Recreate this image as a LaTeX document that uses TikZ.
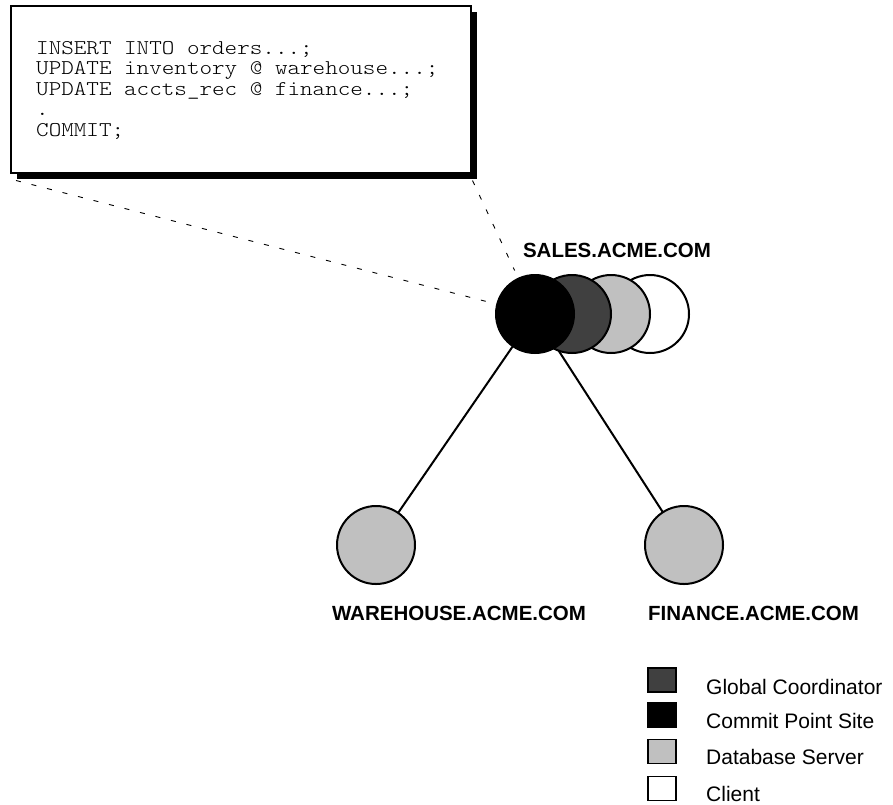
\documentclass[tikz,border=0pt]{standalone}
\usepackage{fontspec}
\setmainfont{Liberation Sans}
\newfontfamily\codefont[FakeStretch=1.14]{Latin Modern Mono Light}
\usetikzlibrary{shadows}
\definecolor{darkgrey}{HTML}{404040}
\definecolor{lightgrey}{HTML}{C0C0C0}
\begin{document}
\begin{tikzpicture}[x=1pt,y=-1pt,
  site/.style={circle, draw=black, line width=2pt, minimum size=78pt, inner sep=0pt},
  link/.style={line width=2pt},
  callout/.style={line width=0.9pt, dash pattern=on 5pt off 11pt},
  sitelabel/.style={font=\bfseries\fontsize{20.5}{23}\selectfont, inner sep=0pt},
  legbox/.style={draw=black, line width=1.8pt, minimum width=28pt, minimum height=24pt, inner sep=0pt},
  legtext/.style={font=\fontsize{21}{24}\selectfont, inner sep=0pt, anchor=base west},
  codeline/.style={font=\codefont\fontsize{21}{23}\selectfont, inner sep=0pt, anchor=base west},
  codebox/.style={draw=black, line width=1.5pt, fill=white, inner sep=0pt,
     drop shadow={shadow xshift=6pt, shadow yshift=-6pt, fill=black, opacity=1}}
]
\useasboundingbox (0,0) rectangle (893,804);

% code box
\node[codebox, minimum width=460pt, minimum height=167pt, anchor=north west] (box) at (10,5) {};
\node[codeline] (c1) at (36,54) {INSERT INTO orders...;};
\node[codeline] (c2) at (36,74.5) {UPDATE inventory @ warehouse...;};
\node[codeline] (c3) at (36,95) {UPDATE accts\_rec @ finance...;};
\node[codeline] (c4) at (36,115.5) {.};
\node[codeline] (c5) at (36,136) {COMMIT;};

% sites
\coordinate (cps) at (535,314);
\coordinate (wh) at (376,545);
\coordinate (fin) at (684,545);

\draw[callout] ([xshift=6pt,yshift=-7pt]box.south west) -- (cps);
\draw[callout, shorten >=48pt] ([xshift=1pt,yshift=-7pt]box.south east) -- (cps);
\draw[link] (cps) -- (wh);
\draw[link] (cps) -- (fin);

\node[site, fill=white] (client) at (650,314) {};
\node[site, fill=lightgrey] (server) at (611,314) {};
\node[site, fill=darkgrey] (gc) at (572,314) {};
\node[site, fill=black] (commit) at (cps) {};
\node[site, fill=lightgrey] (warehouse) at (wh) {};
\node[site, fill=lightgrey] (finance) at (fin) {};

\node[sitelabel, anchor=base] (saleslbl) at (617,257) {SALES.ACME.COM};
\node[sitelabel, anchor=base] (whlbl) at (459,620) {WAREHOUSE.ACME.COM};
\node[sitelabel, anchor=base west] (finlbl) at (648,620) {FINANCE.ACME.COM};

% legend
\node[legbox, fill=darkgrey] (lg1) at (662,680) {};
\node[legbox, fill=black] (lg2) at (662,715) {};
\node[legbox, fill=lightgrey] (lg3) at (662,751.5) {};
\node[legbox, fill=white] (lg4) at (662,788.5) {};
\node[legtext] (lt1) at (706,694) {Global Coordinator};
\node[legtext] (lt2) at (706,728) {Commit Point Site};
\node[legtext] (lt3) at (706,764) {Database Server};
\node[legtext] (lt4) at (706,801) {Client};
\end{tikzpicture}
\end{document}
